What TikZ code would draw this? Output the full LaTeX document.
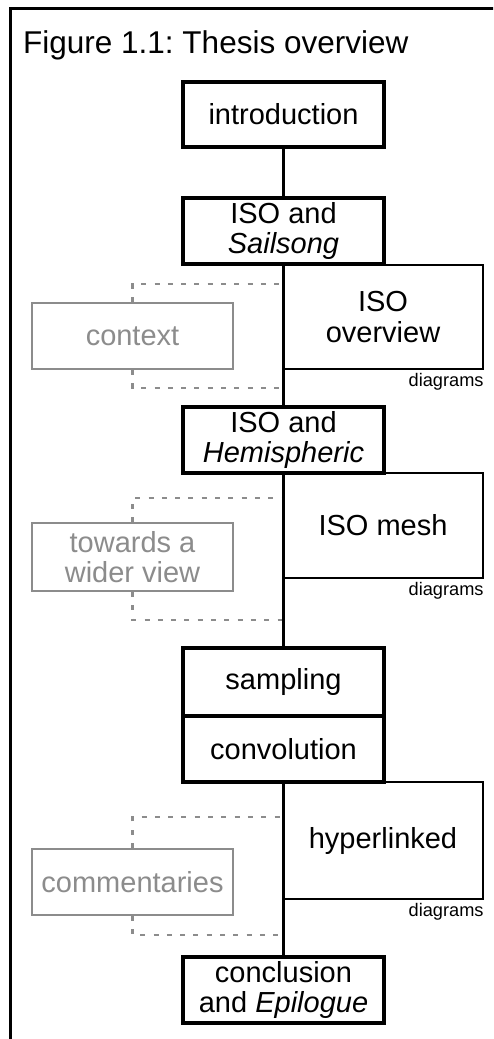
\documentclass[tikz,border=0pt]{standalone}
\usepackage{fontspec}
\setmainfont{Liberation Sans}
\frenchspacing
\begin{document}
\begin{tikzpicture}[x=1pt,y=-1pt,
  chapter/.style={draw=black,line width=3.2pt,minimum width=201pt,minimum height=66pt,inner sep=0pt,align=center,font=\fontsize{29}{30.5}\selectfont},
  diag/.style={draw=black,line width=1.5pt,minimum width=200pt,inner sep=0pt,align=center,font=\fontsize{29}{30.5}\selectfont},
  aside/.style={draw=black!45,text=black!45,line width=2.2pt,minimum width=201pt,minimum height=66pt,inner sep=0pt,align=center,font=\fontsize{29}{30.5}\selectfont},
  smalllabel/.style={anchor=north east,inner sep=0pt,font=\fontsize{18.2}{19}\selectfont},
  spine/.style={line width=3.6pt},
  dashlink/.style={draw=black!45,line width=2.2pt,dash pattern=on 5pt off 8.3pt},
  frame/.style={line width=3.2pt}]
\useasboundingbox (0,0) rectangle (493,1039);
\clip (0,0) rectangle (493,1039);
\fill[white] (0,0) rectangle (493,1039);
\draw[frame] (10.5,1045) -- (10.5,8.7) -- (500,8.7);
\node[anchor=base west,inner sep=0pt,font=\fontsize{31.5}{33}\selectfont] (title) at (23,53) {Figure 1.1: Thesis overview};

% side diagram boxes
\node[diag,minimum height=104pt] (overview) at (383,317) {ISO\\overview};
\node[diag,minimum height=105pt] (mesh) at (383,525.5) {ISO mesh};
\node[diag,minimum height=117pt] (hyper) at (383,840.5) {hyperlinked};
\node[smalllabel] (d1) at ([yshift=-3pt]overview.south east) {diagrams};
\node[smalllabel] (d2) at ([yshift=-3pt]mesh.south east) {diagrams};
\node[smalllabel] (d3) at ([yshift=-3pt]hyper.south east) {diagrams};

% asides
\node[aside] (context) at (132.5,336) {context};
\node[aside,minimum height=68pt] (wider) at (132.5,557) {towards a\\wider view};
\node[aside] (comment) at (132.5,882) {commentaries};

\coordinate (c1t) at (283,284);
\coordinate (c1b) at (283,388);
\coordinate (c2t) at (283,498);
\coordinate (c2b) at (283,620);
\coordinate (c3t) at (283,817);
\coordinate (c3b) at (283,935);
\draw[dashlink] (context.north) |- (c1t);
\draw[dashlink] (context.south) |- (c1b);
\draw[dashlink] (wider.north) |- (c2t);
\draw[dashlink] (wider.south) |- (c2b);
\draw[dashlink] (comment.north) |- (c3t);
\draw[dashlink] (comment.south) |- (c3b);

% chapters
\node[chapter,minimum height=65pt] (intro) at (283.5,114.5) {introduction};
\node[chapter] (sail) at (283.5,231) {ISO and\\\textit{Sailsong}};
\node[chapter] (hemi) at (283.5,440) {ISO and\\\textit{Hemispheric}};
\node[chapter,minimum height=68pt] (samp) at (283.5,682) {sampling};
\node[chapter] (conv) at (283.5,749) {convolution};
\node[chapter] (concl) at (283.5,990) {conclusion\\and \textit{Epilogue}};

\draw[spine] (intro.south) -- (sail.north);
\draw[spine] (sail.south) -- (hemi.north);
\draw[spine] (hemi.south) -- (samp.north);
\draw[spine] (conv.south) -- (concl.north);
\end{tikzpicture}
\end{document}
